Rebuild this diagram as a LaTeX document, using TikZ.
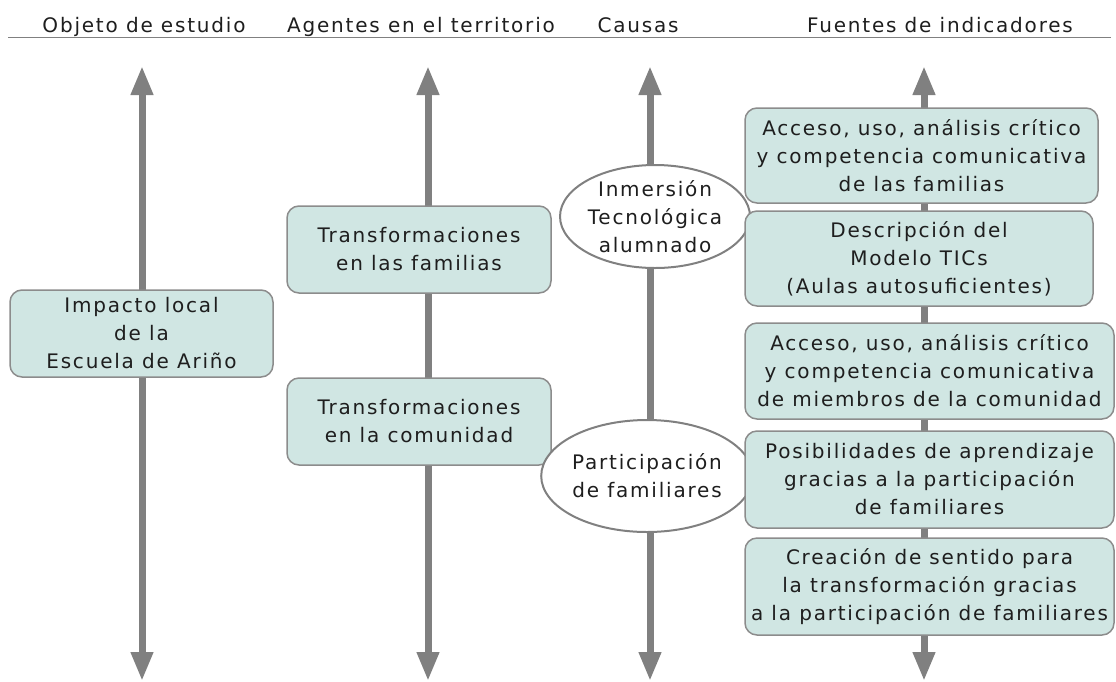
\documentclass[tikz,border=0pt]{standalone}
\usepackage{xcolor}
\usepackage{fontspec}
\setmainfont[LetterSpace=9]{DejaVu Sans}
\usetikzlibrary{arrows.meta,shapes.geometric}
\definecolor{gris}{RGB}{128,128,128}
\definecolor{borde}{RGB}{140,140,140}
\definecolor{relleno}{RGB}{208,230,227}
\definecolor{texto}{RGB}{30,30,30}

\begin{document}
\begin{tikzpicture}[x=1pt,y=-1pt,font=\fontsize{20}{28}\selectfont,text=texto,
	caja/.style={draw=borde,line width=1.5pt,fill=relleno,rounded corners=12pt,align=center,inner sep=0pt},
	causa/.style={ellipse,draw=gris,line width=2pt,fill=white,align=center,inner sep=0pt},
	flecha/.style={draw=gris,line width=7pt,{Triangle[width=21pt,length=29pt]}-{Triangle[width=21pt,length=29pt]}},
	titulo/.style={anchor=base,inner sep=0pt}]
			\useasboundingbox (0,0) rectangle (1116,681);
			\node[titulo] (t1) at (144,32) {Objeto de estudio};
			\node[titulo] (t2) at (421,32) {Agentes en el territorio};
			\node[titulo] (t3) at (638,32) {Causas};
			\node[titulo] (t4) at (940,32) {Fuentes de indicadores};
			\draw[gris,line width=1pt] (8,37) -- (1111,37);
			\foreach \i/\x in {1/142,2/428,3/650,4/924}{
				\coordinate (arriba\i) at (\x,66);
				\coordinate (abajo\i) at (\x,681);
				\draw[flecha] (abajo\i) -- (arriba\i);
			}
			\node[caja,minimum width=263pt,minimum height=87pt] (impacto) at (141.5,333.5) {Impacto local\\de la\\Escuela de Ariño};
			\node[caja,minimum width=264pt,minimum height=87pt] (tfamilias) at (419,249.5) {Transformaciones\\en las familias};
			\node[caja,minimum width=264pt,minimum height=87pt] (tcomunidad) at (419,421.5) {Transformaciones\\en la comunidad};
			\node[causa,minimum width=166pt,minimum height=103pt] (inmersion) at (655,216.5) {Inmersión\\Tecnológica\\alumnado};
			\node[causa,minimum width=180pt,minimum height=112pt] (participacion) at (647,476) {Participación\\de familiares};
			\node[caja,minimum width=353pt,minimum height=95pt] (f1) at (921.5,155.5) {Acceso, uso, análisis crítico\\y competencia comunicativa\\de las familias};
			\node[caja,minimum width=348pt,minimum height=95pt] (f2) at (919,258.5) {Descripción del\\Modelo TICs\\(Aulas autosuficientes)};
			\node[caja,minimum width=369pt,minimum height=96pt] (f3) at (929.5,371) {Acceso, uso, análisis crítico\\y competencia comunicativa\\de miembros de la comunidad};
			\node[caja,minimum width=369pt,minimum height=97pt] (f4) at (929.5,479.5) {Posibilidades de aprendizaje\\gracias a la participación\\de familiares};
			\node[caja,minimum width=369pt,minimum height=97pt] (f5) at (929.5,586.5) {Creación de sentido para\\la transformación gracias\\a la participación de familiares};
		\end{tikzpicture}
\end{document}
